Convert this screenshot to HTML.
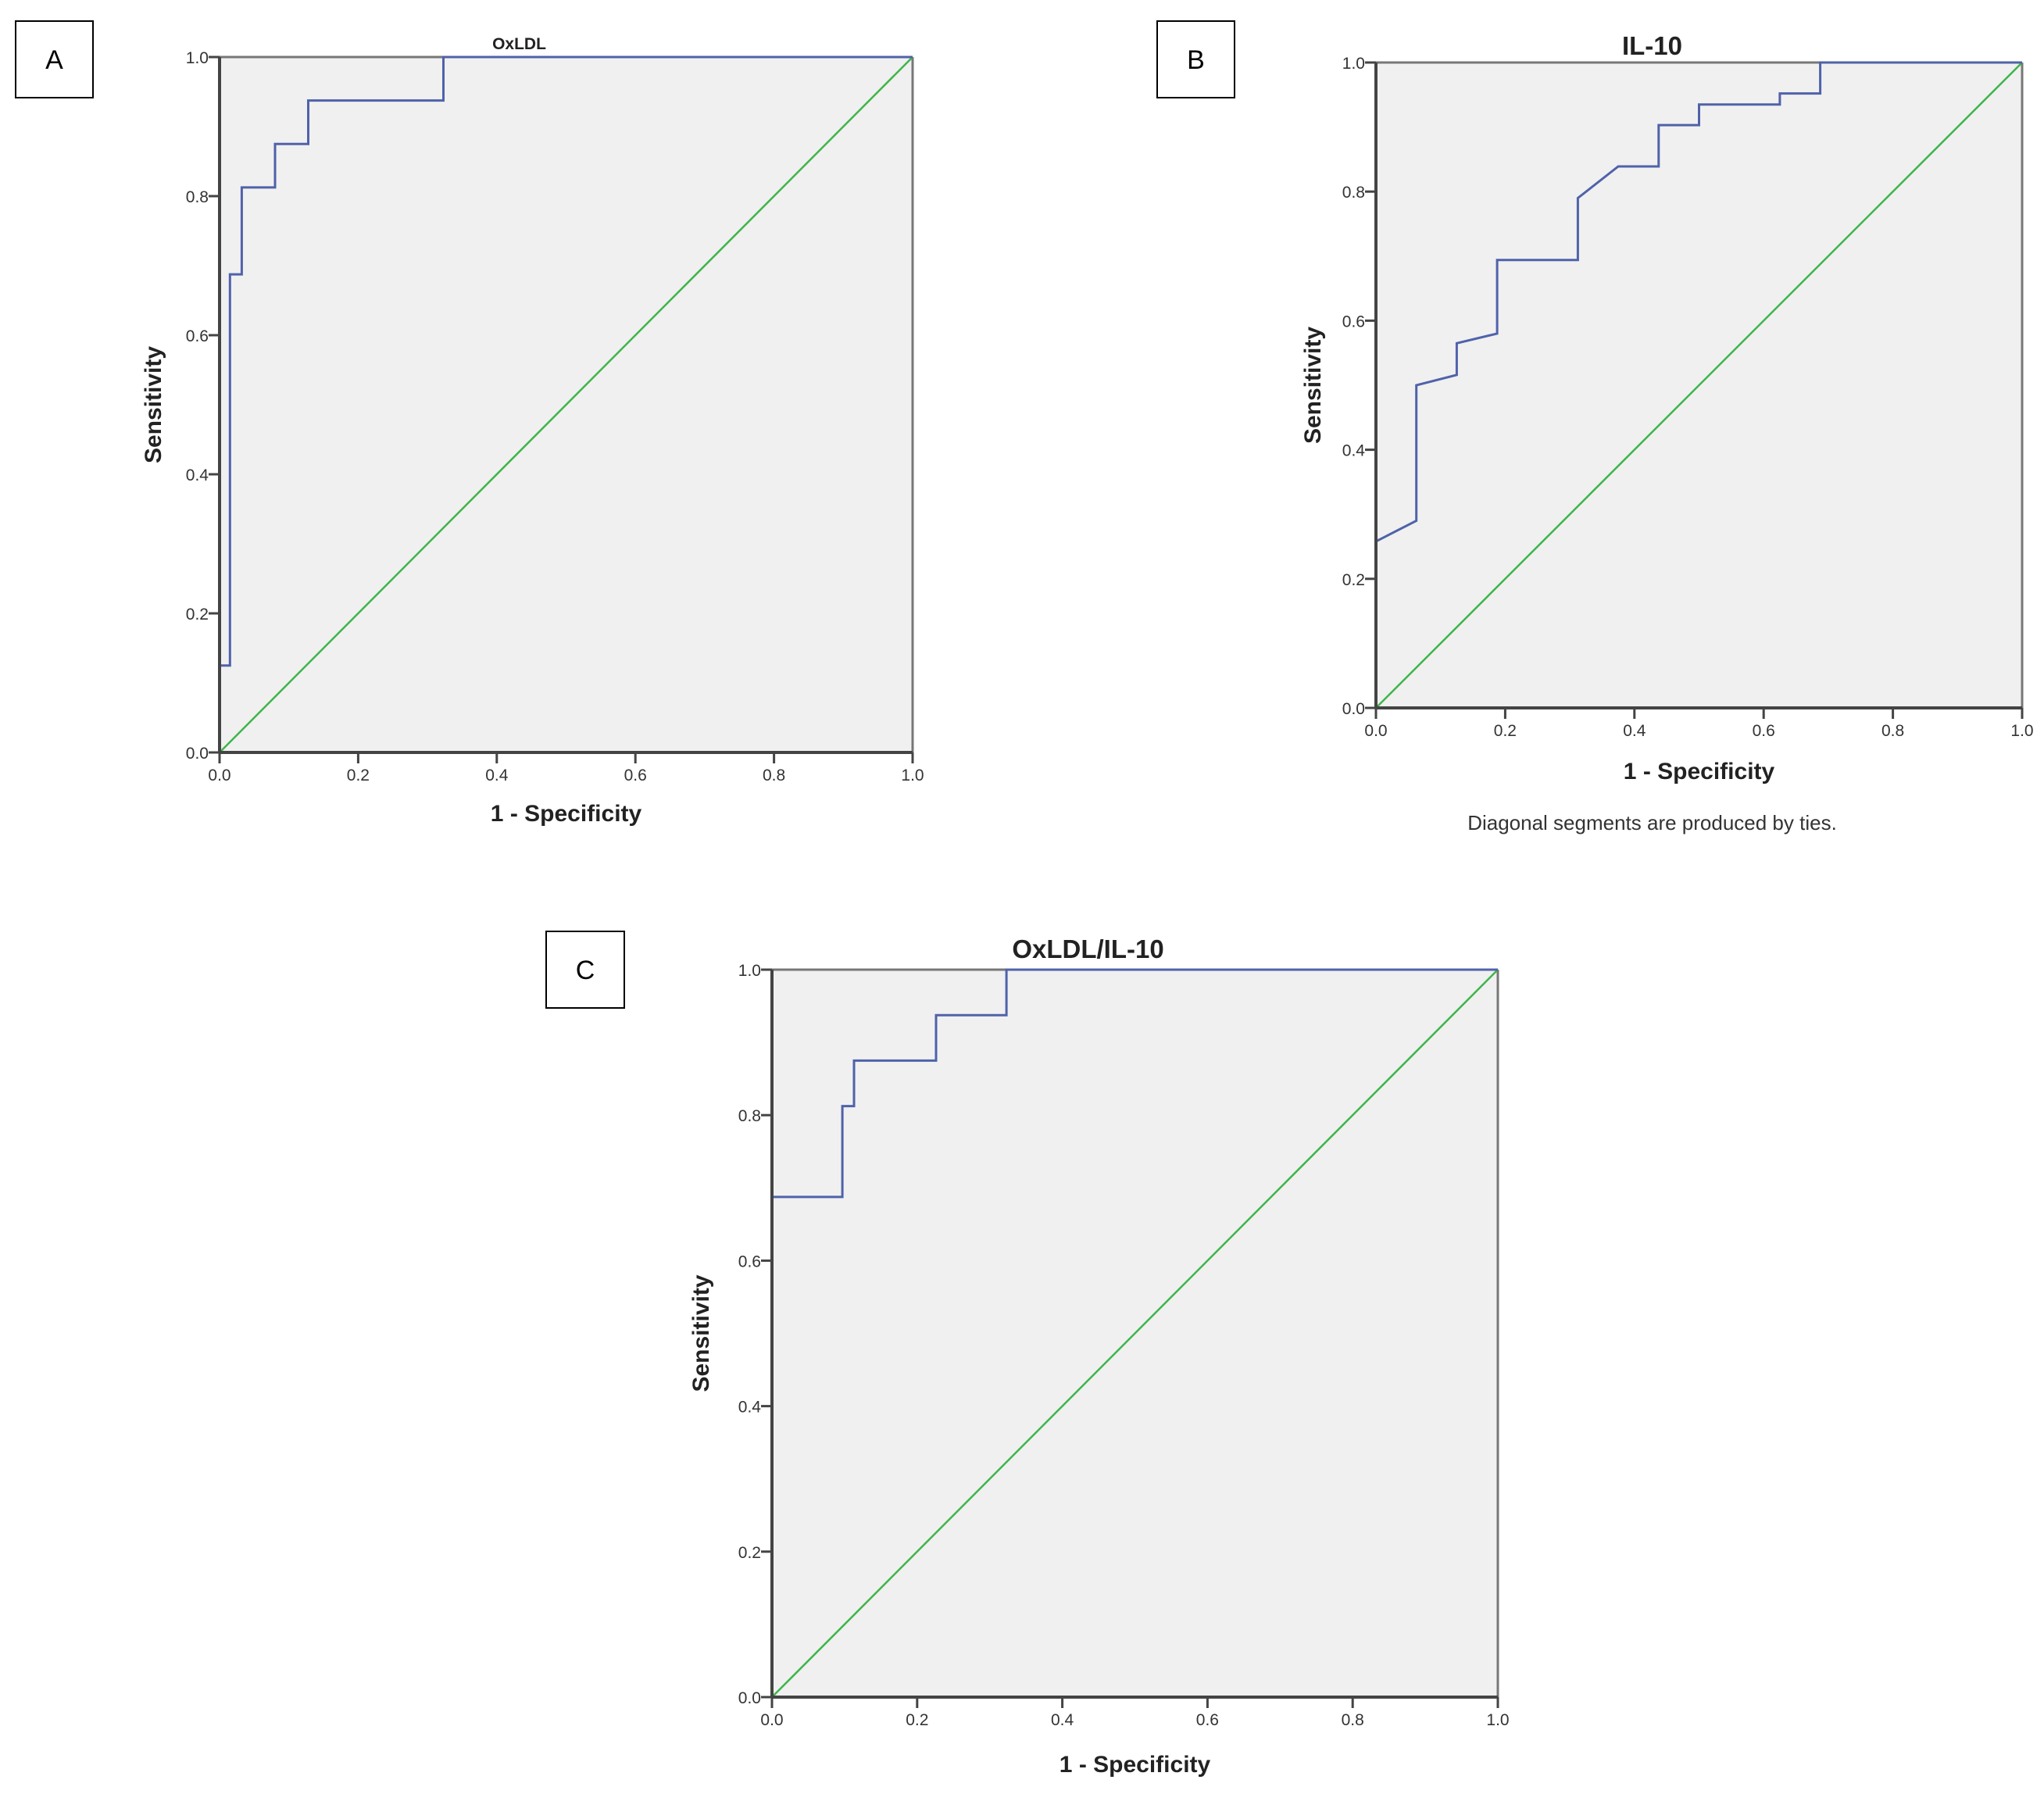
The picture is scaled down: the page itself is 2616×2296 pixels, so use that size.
<!DOCTYPE html>
<html><head><meta charset="utf-8"><style>
html,body{margin:0;padding:0;background:#fff;}
svg{display:block;font-family:"Liberation Sans",Arial,sans-serif;}
</style></head><body>
<svg id="fig" width="2616" height="2296" viewBox="0 0 2616 2296"></svg>
<script>
const ticks=[0,0.2,0.4,0.6,0.8,1.0];
const tickLabels=["0.0","0.2","0.4","0.6","0.8","1.0"];
const rocAx=[0,0,0.015,0.015,0.032,0.032,0.08,0.08,0.128,0.128,0.323,0.323,1];
const rocAy=[0,0.125,0.125,0.6875,0.6875,0.8125,0.8125,0.875,0.875,0.9375,0.9375,1,1];
const rocBx=[0,0.0625,0.0625,0.125,0.125,0.1875,0.1875,0.3125,0.3125,0.375,0.4375,0.4375,0.5,0.5,0.625,0.625,0.6875,0.6875,1];
const rocBy=[0.258,0.29,0.5,0.516,0.565,0.58,0.694,0.694,0.79,0.839,0.839,0.903,0.903,0.935,0.935,0.952,0.952,1,1];
const rocCx=[0,0,0.097,0.097,0.113,0.113,0.226,0.226,0.323,0.323,1];
const rocCy=[0,0.6875,0.6875,0.8125,0.8125,0.875,0.875,0.9375,0.9375,1,1];

const NS="http://www.w3.org/2000/svg";
const svg=document.getElementById('fig');
function mk(tag,attrs,parent){const e=document.createElementNS(NS,tag);for(const k in attrs)e.setAttribute(k,attrs[k]);(parent||svg).appendChild(e);return e;}

function panel(cfg){
  const g=mk('g',{});
  
  
  const L=cfg.l,R=cfg.r,T=cfg.t,B=cfg.b;
  const sx=v=>L+v*(R-L), sy=v=>B-v*(B-T);
  const bx=mk('rect',{x:cfg.box[0],y:cfg.box[1],width:cfg.box[2],height:cfg.box[3],fill:'#fff',stroke:'#000','stroke-width':2},g);
  
  
  const bt=mk('text',{x:cfg.box[0]+cfg.box[2]/2,y:cfg.box[1]+cfg.box[3]/2+12,'text-anchor':'middle','font-size':34,fill:'#000'},g);
  bt.textContent=cfg.letter;
  
  
  const bg=mk('rect',{x:L,y:T,width:R-L,height:B-T,fill:'#f0f0f0',stroke:'none'},g);
  
  
  mk('line',{x1:L,y1:T,x2:R,y2:T,stroke:'#777','stroke-width':3},g);
  mk('line',{x1:R,y1:T,x2:R,y2:B,stroke:'#777','stroke-width':3},g);
  const dg=mk('line',{x1:sx(0),y1:sy(0),x2:sx(1),y2:sy(1),stroke:'#3fb54a','stroke-width':2.5},g);
  
  
  let d='';
  for(let i=0;i<cfg.xs.length;i++)d+=(i?'L':'M')+sx(cfg.xs[i]).toFixed(1)+' '+sy(cfg.ys[i]).toFixed(1);
  const cv=mk('path',{d:d,fill:'none',stroke:'#4f62aa','stroke-width':3,'stroke-linejoin':'miter'},g);
  
  
  mk('line',{x1:L,y1:T,x2:L,y2:B,stroke:'#444','stroke-width':4},g);
  mk('line',{x1:L,y1:B,x2:R,y2:B,stroke:'#444','stroke-width':4},g);
  ticks.forEach((t,i)=>{
    mk('line',{x1:sx(t),y1:B,x2:sx(t),y2:B+14,stroke:'#444','stroke-width':3},g);
    const xt=mk('text',{x:sx(t),y:B+36,'text-anchor':'middle','font-size':cfg.fs,fill:'#333'},g);
    xt.textContent=tickLabels[i];
    
    
    mk('line',{x1:L-14,y1:sy(t),x2:L,y2:sy(t),stroke:'#444','stroke-width':3},g);
    const yt=mk('text',{x:L-14,y:sy(t)+8,'text-anchor':'end','font-size':cfg.fs,fill:'#333'},g);
    yt.textContent=tickLabels[i];
    
    
  });
  const ti=mk('text',{x:(L+R)/2-60,y:cfg.titleY,'text-anchor':'middle','font-size':cfg.titleFs,'font-weight':'bold',fill:'#222'},g);
  ti.textContent=cfg.title;
  
  
  const xa=mk('text',{x:(L+R)/2,y:cfg.xTitleY,'text-anchor':'middle','font-size':30,'font-weight':'bold',fill:'#222'},g);
  xa.textContent='1 - Specificity';
  
  
  const ya=mk('text',{x:cfg.yTitleX,y:(T+B)/2,'text-anchor':'middle','font-size':30,'font-weight':'bold',fill:'#222',transform:'rotate(-90 '+cfg.yTitleX+' '+(T+B)/2+')'},g);
  ya.textContent='Sensitivity';
  
  
  if(cfg.note){
    const n=mk('text',{x:(L+R)/2-60,y:cfg.noteY,'text-anchor':'middle','font-size':26,fill:'#333'},g);
    n.textContent=cfg.note;
    
    
  }
}
panel({id:'a',letter:'A',l:281,r:1168,t:73,b:963,box:[20,27,99,98],xs:rocAx,ys:rocAy,title:'OxLDL',titleY:63,titleFs:21,xTitleY:1051,yTitleX:206,fs:21});
panel({id:'b',letter:'B',l:1761,r:2588,t:80,b:906,box:[1481,27,99,98],xs:rocBx,ys:rocBy,title:'IL-10',titleY:70,titleFs:33,xTitleY:997,yTitleX:1690,fs:21,note:'Diagonal segments are produced by ties.',noteY:1062});
panel({id:'c',letter:'C',l:988,r:1917,t:1241,b:2172,box:[699,1192,100,98],xs:rocCx,ys:rocCy,title:'OxLDL/IL-10',titleY:1226,titleFs:33,xTitleY:2268,yTitleX:907,fs:21});
</script>
</body></html>
